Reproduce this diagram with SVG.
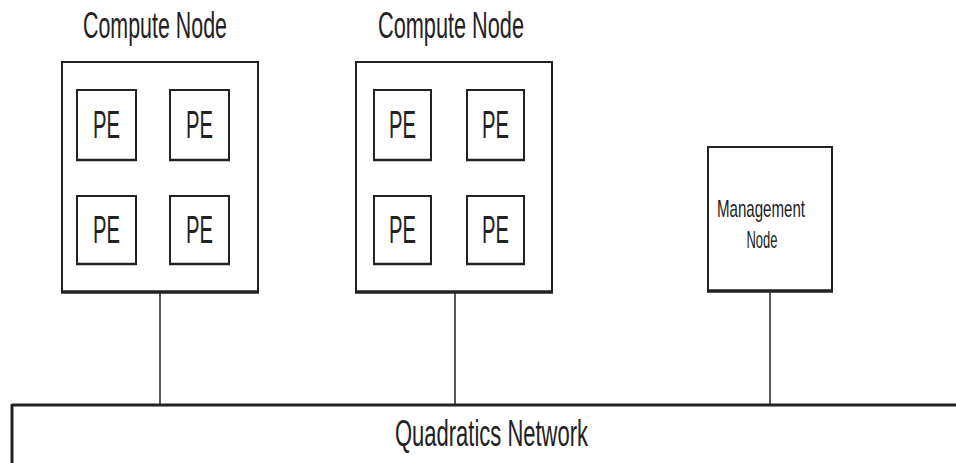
<svg xmlns="http://www.w3.org/2000/svg" width="956" height="463" viewBox="0 0 956 463">
<style>
.box{fill:#fff;stroke:#222;stroke-width:2}
.base{stroke:#222;stroke-width:3.5;fill:none}
.pe{fill:#fff;stroke:#222;stroke-width:2}
.peb{stroke:#222;stroke-width:2.5;fill:none}
.t{font-family:"Liberation Sans",Arial,sans-serif;fill:#222;text-anchor:middle}
.big{font-size:37px}
.pet{font-size:39px}
.sm{font-size:24px}
.conn{stroke:#222;stroke-width:1.5;fill:none}
.net{stroke:#222;stroke-width:3;fill:none}
</style>
<g id="connectors">
<line class="conn" x1="160" y1="293" x2="160" y2="405"/>
<line class="conn" x1="455" y1="293" x2="455" y2="405"/>
<line class="conn" x1="770" y1="292" x2="770" y2="405"/>
</g>
<g id="network">
<line class="net" x1="12" y1="405" x2="956" y2="405"/>
<line class="net" x1="12" y1="404" x2="12" y2="463"/>
<text class="t big" x="491.5" y="446" textLength="193" lengthAdjust="spacingAndGlyphs">Quadratics Network</text>
</g>
<g id="compute1">
<text class="t big" x="155" y="38" textLength="144" lengthAdjust="spacingAndGlyphs">Compute Node</text>
<rect class="box" x="62" y="62" width="196" height="230"/>
<line class="base" x1="61" y1="292" x2="259" y2="292"/>
<g id="c1pe1"><rect class="pe" x="77" y="90" width="59" height="70"/><line class="peb" x1="76" y1="160" x2="137" y2="160"/><text class="t pet" x="106.5" y="138" textLength="27" lengthAdjust="spacingAndGlyphs">PE</text></g>
<g id="c1pe2"><rect class="pe" x="170" y="90" width="59" height="70"/><line class="peb" x1="169" y1="160" x2="230" y2="160"/><text class="t pet" x="199.5" y="138" textLength="27" lengthAdjust="spacingAndGlyphs">PE</text></g>
<g id="c1pe3"><rect class="pe" x="77" y="196" width="59" height="68"/><line class="peb" x1="76" y1="264" x2="137" y2="264"/><text class="t pet" x="106.5" y="243" textLength="27" lengthAdjust="spacingAndGlyphs">PE</text></g>
<g id="c1pe4"><rect class="pe" x="170" y="196" width="59" height="68"/><line class="peb" x1="169" y1="264" x2="230" y2="264"/><text class="t pet" x="199.5" y="243" textLength="27" lengthAdjust="spacingAndGlyphs">PE</text></g>
</g>
<g id="compute2">
<text class="t big" x="451" y="38" textLength="146" lengthAdjust="spacingAndGlyphs">Compute Node</text>
<rect class="box" x="356" y="62" width="196" height="230"/>
<line class="base" x1="355" y1="292" x2="553" y2="292"/>
<g id="c2pe1"><rect class="pe" x="374" y="90" width="57" height="70"/><line class="peb" x1="373" y1="160" x2="432" y2="160"/><text class="t pet" x="402.5" y="138" textLength="27" lengthAdjust="spacingAndGlyphs">PE</text></g>
<g id="c2pe2"><rect class="pe" x="467" y="90" width="57" height="70"/><line class="peb" x1="466" y1="160" x2="525" y2="160"/><text class="t pet" x="495.5" y="138" textLength="27" lengthAdjust="spacingAndGlyphs">PE</text></g>
<g id="c2pe3"><rect class="pe" x="374" y="196" width="57" height="68"/><line class="peb" x1="373" y1="264" x2="432" y2="264"/><text class="t pet" x="402.5" y="243" textLength="27" lengthAdjust="spacingAndGlyphs">PE</text></g>
<g id="c2pe4"><rect class="pe" x="467" y="196" width="57" height="68"/><line class="peb" x1="466" y1="264" x2="525" y2="264"/><text class="t pet" x="495.5" y="243" textLength="27" lengthAdjust="spacingAndGlyphs">PE</text></g>
</g>
<g id="management">
<rect class="box" x="708" y="147" width="124" height="144"/>
<line class="base" x1="707" y1="291" x2="833" y2="291"/>
<text class="t sm" x="761" y="217" textLength="88" lengthAdjust="spacingAndGlyphs">Management</text>
<text class="t sm" x="762" y="248" textLength="31" lengthAdjust="spacingAndGlyphs">Node</text>
</g>
</svg>
